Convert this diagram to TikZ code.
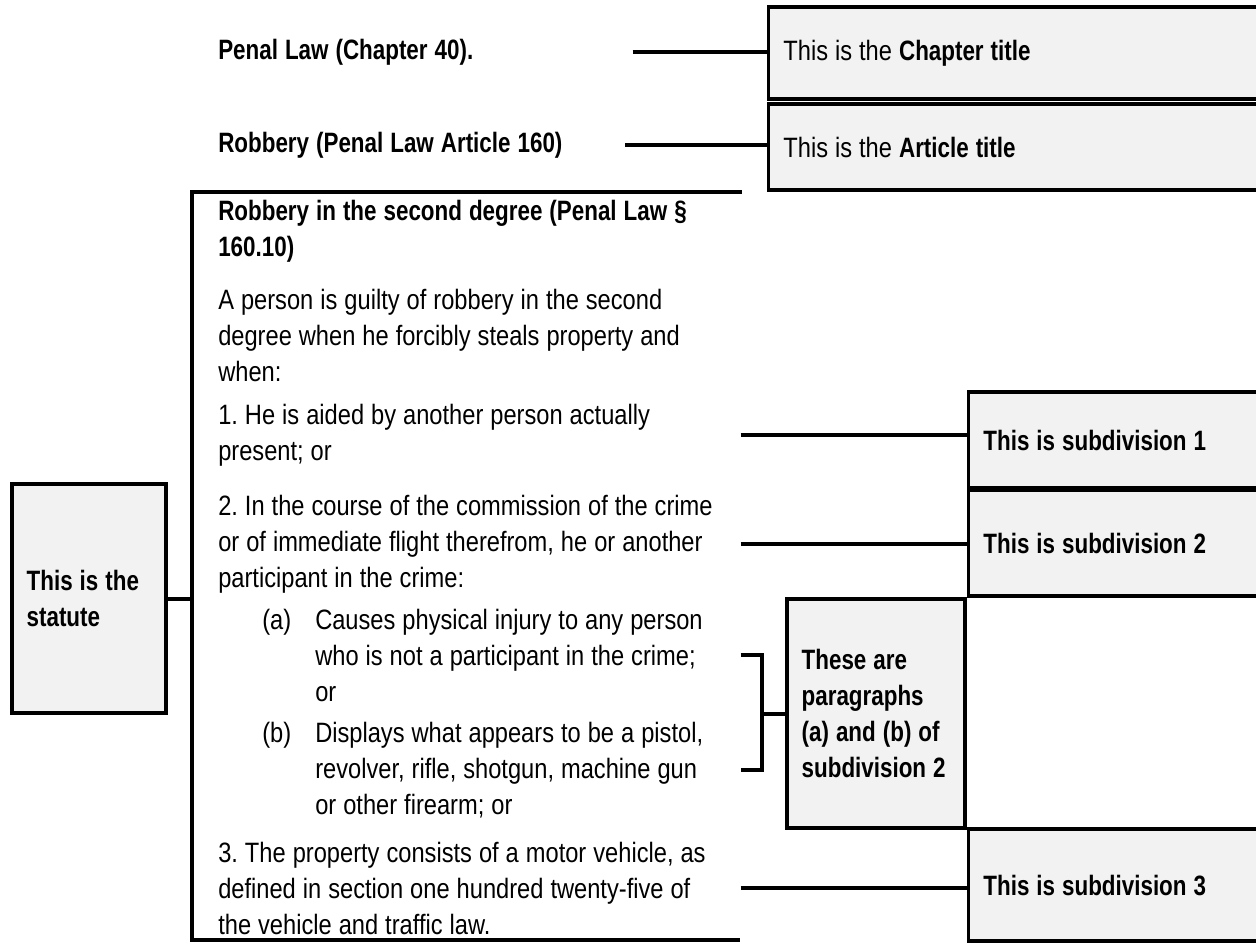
\documentclass[tikz,border=0pt]{standalone}
\usepackage{fontspec}
\setmainfont{Liberation Sans}[UprightFeatures={FakeStretch=0.845}, BoldFeatures={FakeStretch=0.80}]
\definecolor{boxgray}{RGB}{242,242,242}
\newcommand\lawfont{\fontsize{21}{27}\selectfont}
\newcommand\lawspace{\setlength{\spaceskip}{0.25em}\setlength{\xspaceskip}{0.25em}}

\begin{document}
\frenchspacing
\begin{tikzpicture}[x=0.75pt, y=-0.75pt,
    every node/.style={font=\lawfont, inner sep=0pt, execute at begin node=\lawspace},
    lawtext/.style={anchor=west, text width=391.5pt, align=left},
    note/.style={draw, fill=boxgray, line width=2.6pt, anchor=west, align=left, inner xsep=11pt},
    wide/.style={minimum width=405pt, text width=383pt},
    link/.style={line width=3pt}]
    \useasboundingbox (0,0) rectangle (1256,943);

    % chapter and article
    \node[lawtext, text width=310.5pt] (chaplaw) at (218,52) {\textbf{Penal Law (Chapter 40).}};
    \node[lawtext, text width=305pt] (artlaw) at (218,145) {\textbf{Robbery (Penal Law Article 160)}};
    \node[note, wide, minimum height=69pt] (chap) at (767,53) {This is the \textbf{Chapter title}};
    \node[note, wide, minimum height=64.5pt] (art) at (767,147) {This is the \textbf{Article title}};
    \draw[link] (chaplaw.east) -- (chaplaw.east -| chap.west);
    \draw[link] (artlaw.east) -- (artlaw.east -| art.west);

    % the statute
    \node[lawtext] (head) at (218,231) {\textbf{Robbery in the second degree (Penal Law \S\\ 160.10)}};
    \node[lawtext] (pre) at (218,335) {A person is guilty of robbery in the second\\ degree when he forcibly steals property and\\ when:};
    \node[lawtext] (p1) at (218,435) {1. He is aided by another person actually\\ present; or};
    \node[lawtext] (p2) at (218,544) {2. In the course of the commission of the crime\\ or of immediate flight therefrom, he or another\\ participant in the crime:};
    \node[lawtext, text width=318.75pt] (pa) at (315,655) {\leavevmode\llap{(a)\hspace{18pt}}Causes physical injury to any person\\ who is not a participant in the crime;\\ or};
    \node[lawtext, text width=318.75pt] (pb) at (315,770) {\leavevmode\llap{(b)\hspace{18pt}}Displays what appears to be a pistol,\\ revolver, rifle, shotgun, machine gun\\ or other firearm; or};
    \node[lawtext] (p3) at (218,888) {3. The property consists of a motor vehicle, as\\ defined in section one hundred twenty-five of\\ the vehicle and traffic law.};

    \coordinate (lawtop) at (742,192);
    \coordinate (lawcorner) at (192,192);
    \coordinate (lawbot) at (740,940);
    \draw[link] (lawtop) -- (lawcorner) |- (lawbot);

    \node[note, anchor=center, minimum width=115.5pt, minimum height=171.75pt, text width=93.5pt] (st) at (89,598.5) {\textbf{This is the\\ statute}};
    \draw[link] (st.east) -- (st.east -| lawcorner);

    % subdivisions
    \node[note, wide, minimum height=72pt] (s1) at (967,440) {\textbf{This is subdivision 1}};
    \node[note, wide, minimum height=79.5pt] (s2) at (967,543) {\textbf{This is subdivision 2}};
    \node[note, wide, minimum height=84pt] (s3) at (967,885) {\textbf{This is subdivision 3}};
    \node[note, anchor=center, minimum width=133.5pt, minimum height=171.75pt, text width=111.5pt] (pp) at (876,713.5) {\textbf{These are\\ paragraphs\\ (a) and (b) of\\ subdivision 2}};

    \draw[link] (p1.east) -- (p1.east -| s1.west);
    \draw[link] (p2.east) -- (p2.east -| s2.west);
    \draw[link] (p3.east) -- (p3.east -| s3.west);
    \draw[link] (pa.east) -- ++(21,0) coordinate (brk) |- (pb.east);
    \draw[link] (brk |- pp.west) -- (pp.west);
\end{tikzpicture}
\end{document}
